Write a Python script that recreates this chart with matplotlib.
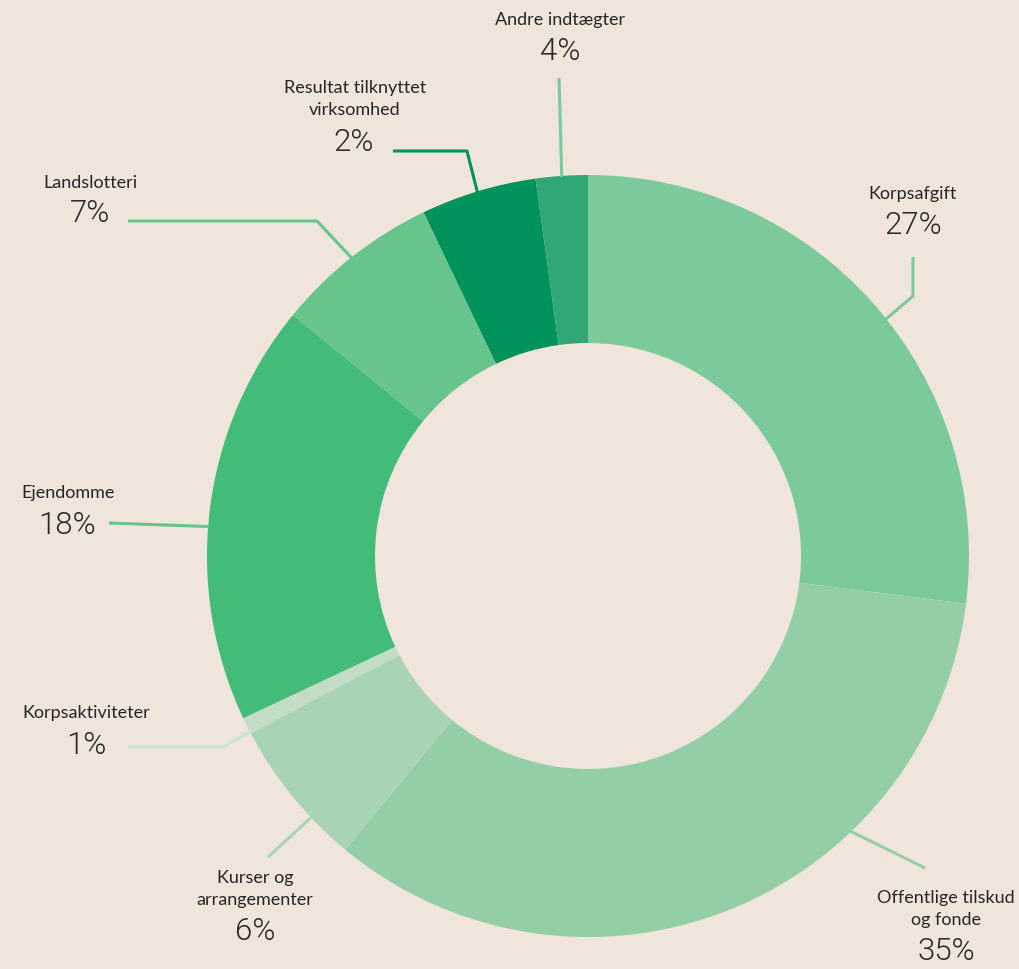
import numpy as np
import matplotlib.pyplot as plt

# Data (slice shares, printed labels as shown).
names = ["Korpsafgift", "Offentlige tilskud\nog fonde", "Kurser og\narrangementer",
         "Korpsaktiviteter", "Ejendomme", "Landslotteri",
         "Resultat tilknyttet\nvirksomhed", "Andre indtægter"]
shares = [27.0, 34.0, 6.3, 0.7, 17.9, 7.0, 4.9, 2.2]
pct_labels = ["27%", "35%", "6%", "1%", "18%", "7%", "2%", "4%"]
colors = ["#7cc99b", "#93cea7", "#a9d4b4", "#c3dcc6",
          "#43bb79", "#66c48c", "#00925b", "#31a677"]
line_colors = ["#7cc99b", "#93cea7", "#a9d4b4", "#c8e6d2",
               "#66c48c", "#66c48c", "#00925b", "#7cc99b"]

W, H = 1020, 969
BG = "#efe5da"
CX, CY = 588, 556          # pixel coords, y down
R_OUT, R_IN = 381, 213

# layout: name pos, pct pos, anchor fraction in slice, leader path (label side first)
name_pos = [(913, 194), (946, 909), (255, 889), (86, 713), (68, 493),
            (90, 183), (355, 99), (560, 20)]
pct_pos = [(913, 225), (946, 952), (255, 932), (86, 746), (67, 526),
           (90, 213), (354, 142), (560, 51)]
anchor_frac = [0.53, 0.32, 0.31, 0.1, 0.46, 0.49, 0.49, 0.5]
leader_pts = [
    [(913, 257), (913, 296)],
    [(925, 868)],
    [(268, 857)],
    [(128, 747), (223, 747)],
    [(109, 523)],
    [(128, 221), (317, 221)],
    [(393, 151), (467, 151)],
    [(559, 78)],
]


def fy(y):
    return H - y


fig = plt.figure(figsize=(W / 100, H / 100), dpi=100, facecolor=BG)
ax = fig.add_axes([0, 0, 1, 1])
ax.set_facecolor(BG)
ax.axis("off")

ax.pie(shares, colors=colors, startangle=90, counterclock=False,
       center=(CX, fy(CY)), radius=R_OUT,
       wedgeprops=dict(width=R_OUT - R_IN, linewidth=0))
ax.set_xlim(0, W)
ax.set_ylim(0, H)
ax.set_aspect("equal")

total = sum(shares)
cum = np.concatenate([[0], np.cumsum(shares)]) / total
for i in range(len(shares)):
    f = cum[i] + anchor_frac[i] * (cum[i + 1] - cum[i])
    ang = np.deg2rad(90 - 360 * f)
    ex = CX + (R_OUT - 1) * np.cos(ang)
    ey = fy(CY) + (R_OUT - 1) * np.sin(ang)
    pts = [(x, fy(y)) for x, y in leader_pts[i]] + [(ex, ey)]
    xs, ys = zip(*pts)
    ax.plot(xs, ys, color=line_colors[i], lw=2.2, solid_capstyle="butt", zorder=3)

    nx, ny = name_pos[i]
    ax.text(nx, fy(ny), names[i], ha="center", va="center", fontsize=13,
            family="Lato", color="#262626", linespacing=1.45)
    px, py = pct_pos[i]
    ax.text(px, fy(py), pct_labels[i], ha="center", va="center", fontsize=22.5,
            family="Roboto", fontweight=300, color="#2a2a2a")

fig.savefig("out.png", dpi=100, facecolor=BG)
